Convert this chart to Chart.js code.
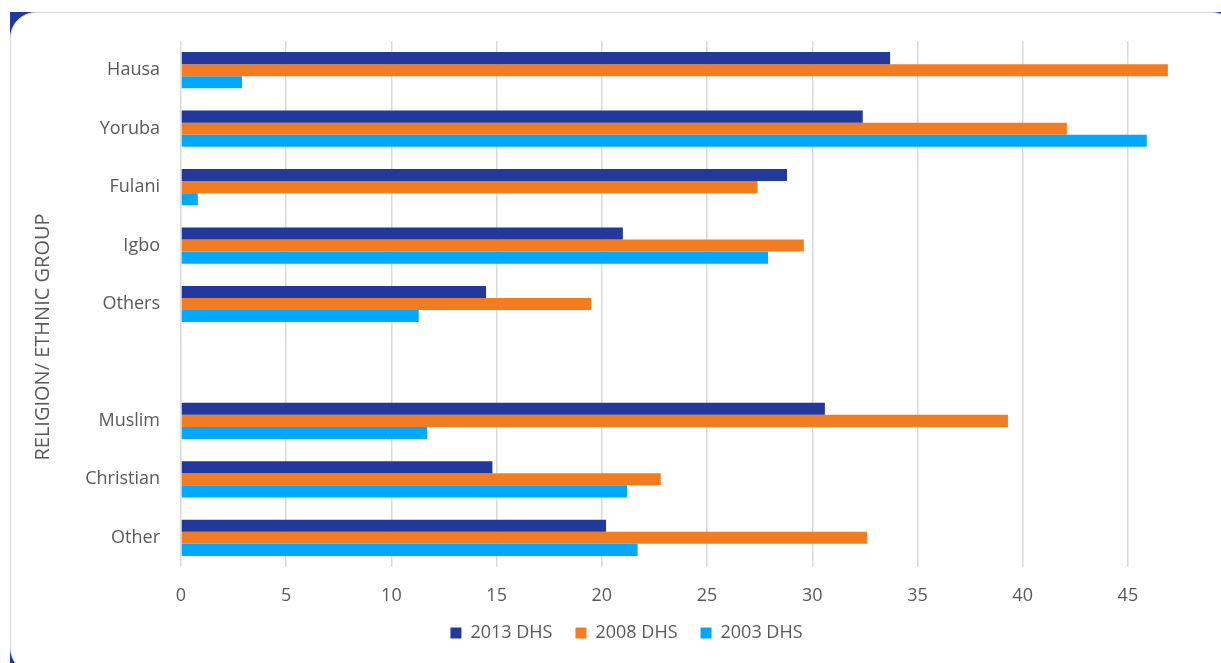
<!DOCTYPE html>
<html>
<head>
<meta charset="utf-8">
<script src="https://cdn.jsdelivr.net/npm/chart.js@4/dist/chart.umd.min.js"></script>
<style>
  html, body { margin: 0; padding: 0; background: #fff; overflow: hidden; }
  #wrap { position: relative; width: 1221px; height: 663px; overflow: hidden; }
  #blue { position: absolute; left: 10px; top: 12px; width: 1250px; height: 680px; background: #21399b; }
  #card { position: absolute; left: 10px; top: 12px; width: 1226px; height: 660px; background: #fff;
          border: 1.5px solid #d9d9d9; border-radius: 26px; }
  #myChart { position: absolute; left: 0; top: 0; }
</style>
</head>
<body>
<div id="wrap">
  <div id="blue"></div>
  <div id="card"></div>
  <canvas id="myChart" width="1221" height="663"></canvas>
</div>
<script>
const categories = ['Hausa', 'Yoruba', 'Fulani', 'Igbo', 'Others', '', 'Muslim', 'Christian', 'Other']
const seriesNames = ['2013 DHS', '2008 DHS', '2003 DHS']
const dhs2013 = [33.7, 32.4, 28.8, 21.0, 14.5, null, 30.6, 14.8, 20.2]
const dhs2008 = [46.9, 42.1, 27.4, 29.6, 19.5, null, 39.3, 22.8, 32.6]
const dhs2003 = [2.9, 45.9, 0.8, 27.9, 11.3, null, 11.7, 21.2, 21.7]
const xTicks = [0, 5, 10, 15, 20, 25, 30, 35, 40, 45]
const axisTitle = 'RELIGION/ ETHNIC GROUP'

const textColor = '#595959'
const font = '"Open Sans", "Noto Sans", sans-serif'

// y axis title drawn by hand so it can sit where the original has it
const yTitle = {
  id: 'yTitle',
  afterDraw(chart) {
    const ctx = chart.ctx
    ctx.save()
    ctx.translate(43, 337)
    ctx.rotate(-Math.PI / 2)
    ctx.font = '20px ' + font
    ctx.fillStyle = textColor
    ctx.textAlign = 'center'
    ctx.textBaseline = 'middle'
    ctx.fillText(axisTitle, 0, 0)
    ctx.restore()
  }
}

const ctx = document.getElementById('myChart')

const chart = new Chart(ctx, {
  type: 'bar',
  data: {
    labels: categories,
    datasets: [
      { label: seriesNames[0], data: dhs2013, backgroundColor: '#21399b' },
      { label: seriesNames[1], data: dhs2008, backgroundColor: '#f47c20' },
      { label: seriesNames[2], data: dhs2003, backgroundColor: '#00a9fe' }
    ]
  },
  options: {
    indexAxis: 'y',
    responsive: false,
    animation: false,
    devicePixelRatio: 1,
    datasets: {
      bar: { barPercentage: 1, categoryPercentage: 0.62 }
    },
    layout: {
      padding: { left: 62, right: 30, top: 41, bottom: 11 }
    },
    scales: {
      x: {
        min: 0,
        max: 48,
        border: { display: false },
        grid: { color: '#d9d9d9', lineWidth: 1.5, drawTicks: false },
        afterBuildTicks: s => { s.ticks = xTicks.map(v => ({ value: v })) },
        afterFit: s => { s.height = 34 },
        ticks: { color: textColor, font: { family: font, size: 18 }, padding: 18 }
      },
      y: {
        border: { display: false },
        grid: { display: false },
        afterFit: s => { s.width = 119 },
        ticks: { color: textColor, font: { family: font, size: 18 }, padding: 13 }
      }
    },
    plugins: {
      tooltip: { enabled: false },
      legend: {
        position: 'bottom',
        labels: {
          color: textColor,
          font: { family: font, size: 18 },
          boxWidth: 11,
          boxHeight: 11,
          padding: 23
        }
      }
    }
  },
  plugins: [yTitle]
})
</script>
</body>
</html>
